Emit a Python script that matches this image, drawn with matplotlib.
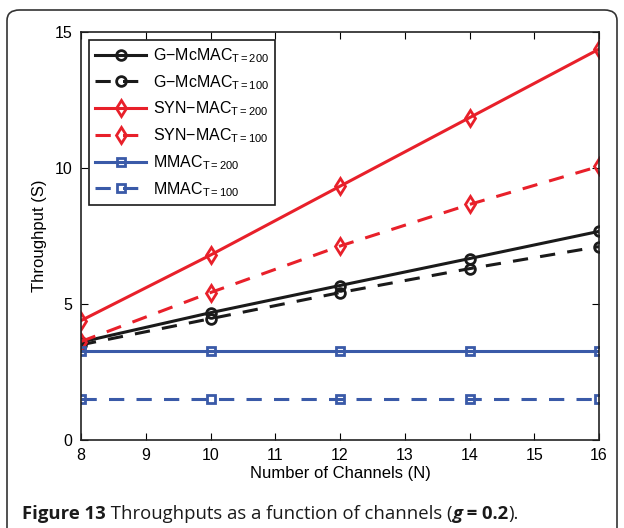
import matplotlib.pyplot as plt
from matplotlib.patches import FancyBboxPatch

plt.rcParams['font.family'] = ['Liberation Sans', 'DejaVu Sans']
plt.rcParams['mathtext.fontset'] = 'custom'
plt.rcParams['mathtext.rm'] = 'Liberation Sans'
plt.rcParams['mathtext.it'] = 'Liberation Sans:italic'

channels = [8, 10, 12, 14, 16]
gmcmac_200 = [3.6, 4.68, 5.68, 6.67, 7.67]
gmcmac_100 = [3.5, 4.46, 5.42, 6.3, 7.11]
synmac_200 = [4.39, 6.8, 9.33, 11.85, 14.37]
synmac_100 = [3.62, 5.42, 7.13, 8.66, 10.06]
mmac_200 = [3.28, 3.28, 3.28, 3.28, 3.28]
mmac_100 = [1.5, 1.5, 1.5, 1.5, 1.5]

red = '#e8202a'
blue = '#3a5aa8'
black = '#1a1a1a'

fig = plt.figure(figsize=(6.24, 5.28), dpi=100)
ax = fig.add_axes([81 / 624, 1 - 440 / 528, (599 - 81) / 624, (440 - 32) / 528])

# outer page frame with rounded top corners
frame = FancyBboxPatch((7 / 624, -0.1), (617 - 7) / 624, 1.1 - 10 / 528,
                       boxstyle='round,pad=0,rounding_size=0.02',
                       transform=fig.transFigure, fill=False,
                       edgecolor='#333333', linewidth=1.2, clip_on=False)
fig.patches.append(frame)

kw = dict(linewidth=2.2, markeredgewidth=2, markerfacecolor='none')
ax.plot(channels, gmcmac_200, '-', marker='o', markersize=7, color=black,
        label=r'G$-$McMAC$_{\mathrm{T=200}}$', **kw)
ax.plot(channels, gmcmac_100, '--', marker='o', markersize=7, color=black,
        label=r'G$-$McMAC$_{\mathrm{T=100}}$', dashes=(5, 4), **kw)
ax.plot(channels, synmac_200, '-', marker='d', markersize=8, color=red,
        label=r'SYN$-$MAC$_{\mathrm{T=200}}$', **kw)
ax.plot(channels, synmac_100, '--', marker='d', markersize=8, color=red,
        label=r'SYN$-$MAC$_{\mathrm{T=100}}$', dashes=(5, 4), **kw)
ax.plot(channels, mmac_200, '-', marker='s', markersize=6, color=blue,
        label=r'MMAC$_{\mathrm{T=200}}$', **kw)
ax.plot(channels, mmac_100, '--', marker='s', markersize=6, color=blue,
        label=r'MMAC$_{\mathrm{T=100}}$', dashes=(5, 4), **kw)

ax.set_xlim(8, 16)
ax.set_ylim(0, 15)
ax.set_xticks(range(8, 17))
ax.set_yticks([0, 5, 10, 15])
ax.tick_params(direction='in', labelsize=11.5, length=5, top=True, right=True, pad=6)
for s in ax.spines.values():
    s.set_linewidth(1.2)
    s.set_color('#222222')
ax.set_xlabel('Number of Channels (N)', fontsize=12, labelpad=2)
ax.set_ylabel('Throughput (S)', fontsize=12, labelpad=6)

leg = ax.legend(loc='upper left', fontsize=11.5, handlelength=3.2, labelspacing=0.5,
                borderaxespad=0.5, fancybox=False, framealpha=1, edgecolor=black,
                handletextpad=0.4, borderpad=0.4)
leg.get_frame().set_linewidth(1.2)

# caption
cap_font = ['Open Sans', 'DejaVu Sans']
cap_kw = dict(fontsize=13.3, family=cap_font, color='#1a1a1a')
t1 = fig.text(22 / 624, 1 - 519 / 528, 'Figure 13', fontweight='bold', **cap_kw)
t2 = ax.annotate(' Throughputs as a function of channels (', xy=(1, 0), xycoords=t1,
                 va='bottom', annotation_clip=False, **cap_kw)
t3 = ax.annotate('g', xy=(1, 0), xycoords=t2, va='bottom', style='italic',
                 fontweight='bold', annotation_clip=False, **cap_kw)
t4 = ax.annotate(' = 0.2', xy=(1, 0), xycoords=t3, va='bottom', fontweight='bold',
                 annotation_clip=False, **cap_kw)
ax.annotate(').', xy=(1, 0), xycoords=t4, va='bottom', annotation_clip=False, **cap_kw)

plt.savefig('out.png', dpi=100)
